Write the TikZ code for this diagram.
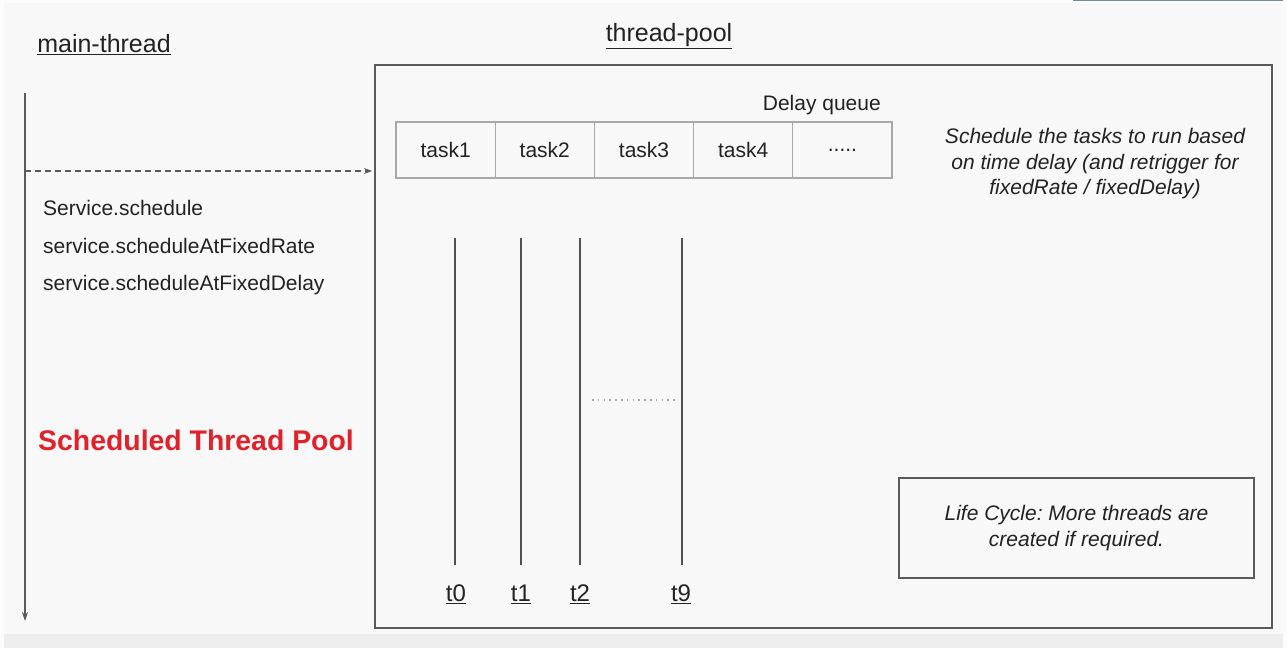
\documentclass[tikz,border=0pt]{standalone}
\usepackage{fontspec}
\setmainfont{Liberation Sans}
\usepackage{tikz}
\usetikzlibrary{arrows.meta,positioning}
\frenchspacing

\definecolor{pagebg}{HTML}{F8F8F8}
\definecolor{bandbg}{HTML}{EEEEEE}
\definecolor{edgeblue}{HTML}{7A889C}
\definecolor{boxline}{HTML}{5A5A5A}
\definecolor{cellline}{HTML}{A8A8A8}
\definecolor{inktext}{HTML}{222222}
\definecolor{titlered}{HTML}{E0222B}

\tikzset{
  body/.style={text=inktext, font=\fontsize{21}{25.5}\selectfont, inner sep=0pt},
  heading/.style={text=inktext, font=\fontsize{25}{30}\selectfont, inner sep=0pt},
  cell/.style={body, draw=cellline, line width=1.3pt, outer sep=0pt,
    minimum width=99.2pt, minimum height=56pt},
  threadline/.style={draw=boxline!90!black, line width=1.3pt},
}

\begin{document}
\begin{tikzpicture}[x=1pt, y=-1pt]
		%%%%% START %%%%%
		\useasboundingbox (0, 0) rectangle (1287, 648);
		\fill[white!60!pagebg] (0, 0) rectangle (1287, 648);
		\fill[pagebg] (4, 3) rectangle (1283, 634);
		\fill[bandbg] (4, 634) rectangle (1283, 648);
		\fill[edgeblue] (1073, 0) rectangle (1283, 1.2);
		
		% titles
		\node[heading] (mainTitle) at (104, 45) {\underline{main-thread}};
		\node[heading] (poolTitle) at (669, 36) {\underline{thread-pool}};
		
		% main thread
		\coordinate (mainTop) at (25, 93);
		\coordinate (mainEnd) at (25, 621);
		\draw[draw=boxline, line width=1.3pt, -{Stealth[length=9pt, width=6pt]}] (mainTop) -- (mainEnd);
		
		\node[body, anchor=west] (callA) at (43, 208) {Service.schedule};
		\node[body, anchor=west] (callB) at (43, 246) {service.scheduleAtFixedRate};
		\node[body, anchor=west] (callC) at (43, 285) {service.scheduleAtFixedDelay};
		
		\node[anchor=west, inner sep=0pt, text=titlered, font=\fontsize{28.4}{32}\selectfont\bfseries] (poolName) at (38, 440) {Scheduled Thread Pool};
		
		% thread pool
		\node[draw=boxline, line width=1.8pt, outer sep=0pt, minimum width=897pt, minimum height=563pt] (poolBox) at (823.5, 346.5) {};
		
		\coordinate (callStart) at (25, 171);
		\draw[draw=boxline, line width=1.3pt, dash pattern=on 6pt off 4pt, -{Stealth[length=8pt, width=6pt]}] (callStart) -- ([xshift=-3pt]callStart -| poolBox.west);
		
		\node[body, anchor=east] (delayLabel) at (881, 105) {Delay queue};
		\node[cell] (q1) at (445.6, 150) {task1};
		\node[cell, right=0pt of q1] (q2) {task2};
		\node[cell, right=0pt of q2] (q3) {task3};
		\node[cell, right=0pt of q3] (q4) {task4};
		\node[cell, right=0pt of q4] (q5) {.....};
		
		\node[body, align=center, font=\fontsize{21}{25.5}\selectfont\itshape] (note) at (1095, 164) {Schedule the tasks to run based\\on time delay (and retrigger for\\fixedRate / fixedDelay)};
		
		% threads
		\coordinate (t0top) at (455, 238);
		\coordinate (t0bot) at (455, 565);
		\coordinate (t1top) at (521, 238);
		\coordinate (t1bot) at (521, 565);
		\coordinate (t2top) at (580, 238);
		\coordinate (t2bot) at (580, 565);
		\coordinate (t9top) at (682, 238);
		\coordinate (t9bot) at (682, 565);
		\draw[threadline] (t0top) -- (t0bot);
		\draw[threadline] (t1top) -- (t1bot);
		\draw[threadline] (t2top) -- (t2bot);
		\draw[threadline] (t9top) -- (t9bot);
		
		\node[heading, font=\fontsize{24}{28}\selectfont] (t0) at (456, 594) {\underline{t0}};
		\node[heading, font=\fontsize{24}{28}\selectfont] (t1) at (521, 594) {\underline{t1}};
		\node[heading, font=\fontsize{24}{28}\selectfont] (t2) at (580, 594) {\underline{t2}};
		\node[heading, font=\fontsize{24}{28}\selectfont] (t9) at (681, 594) {\underline{t9}};
		
		\draw[draw=cellline, line width=1.6pt, dash pattern=on 1.6pt off 4.2pt] (592, 400) -- (675, 400);
		
		% life cycle
		\node[body, draw=boxline, line width=1.5pt, align=center, minimum width=355pt, minimum height=100pt, font=\fontsize{21}{25.5}\selectfont\itshape] (lifeBox) at (1076.5, 528) {\raisebox{-3pt}{Life Cycle: More threads are}\\\raisebox{-3pt}{created if required.}};
		%%%%% END %%%%%
	\end{tikzpicture}
\end{document}
